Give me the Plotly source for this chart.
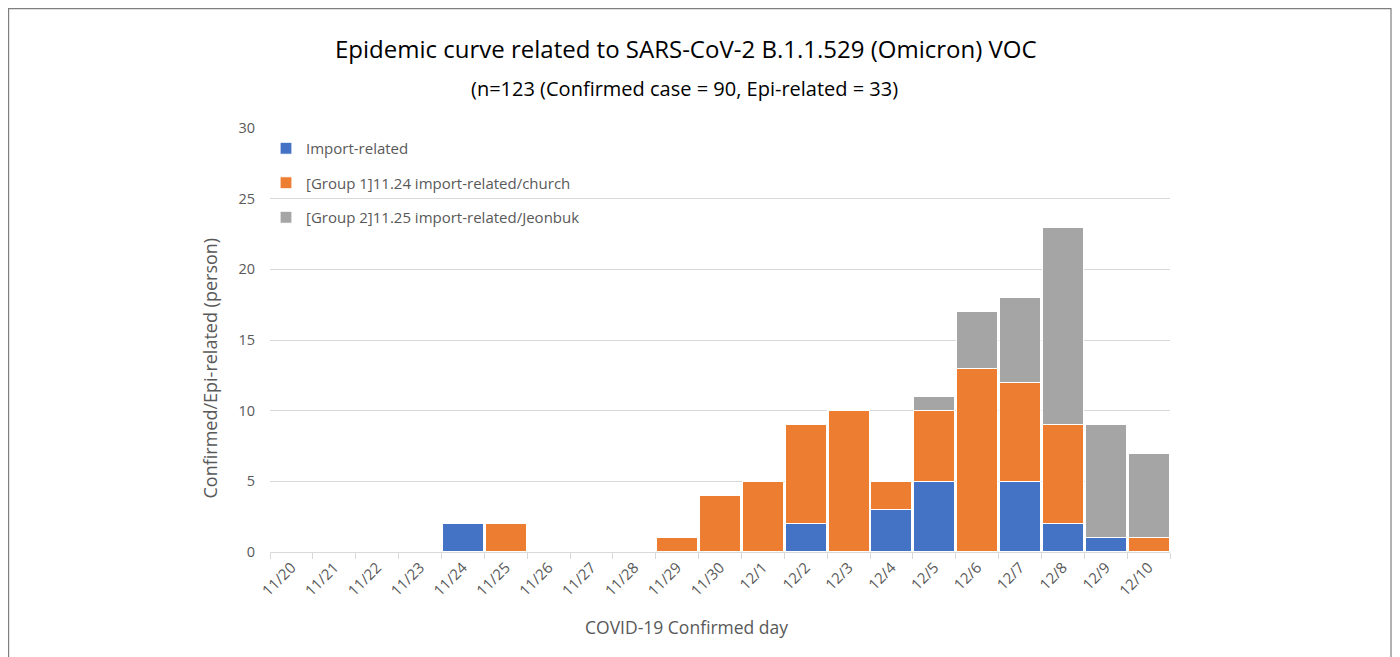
import plotly.graph_objects as go

dates = ["11/20", "11/21", "11/22", "11/23", "11/24", "11/25", "11/26", "11/27", "11/28",
         "11/29", "11/30", "12/1", "12/2", "12/3", "12/4", "12/5", "12/6", "12/7", "12/8",
         "12/9", "12/10"]
import_related = [0, 0, 0, 0, 2, 0, 0, 0, 0, 0, 0, 0, 2, 0, 3, 5, 0, 5, 2, 1, 0]
group1_church = [0, 0, 0, 0, 0, 2, 0, 0, 0, 1, 4, 5, 7, 10, 2, 5, 13, 7, 7, 0, 1]
group2_jeonbuk = [0, 0, 0, 0, 0, 0, 0, 0, 0, 0, 0, 0, 0, 0, 0, 1, 4, 6, 14, 8, 6]

series = [
    ("Import-related", import_related, "#4472C4"),
    ("[Group 1]11.24 import-related/church", group1_church, "#ED7D31"),
    ("[Group 2]11.25 import-related/Jeonbuk", group2_jeonbuk, "#A5A5A5"),
]

FONT = "Open Sans, Noto Sans, sans-serif"

# page is offset by 8px body margin
OFF = 8
L, T, PW, PH = 270 - OFF, 128 - OFF, 900, 424
W, H = 1392, 649

def px_x(page_x):
    return (page_x - OFF - L) / PW

def px_y(page_y):
    return (T + PH - (page_y - OFF)) / PH

fig = go.Figure()
for i, (name, vals, color) in enumerate(series):
    fig.add_trace(go.Bar(
        x=dates, y=vals, name=name,
        marker=dict(color=color, line=dict(color="white", width=1.2)),
        legendgroup=f"g{i}",
    ))

fig.update_layout(
    barmode="stack",
    bargap=0.04,
    width=W, height=H,
    margin=dict(l=L, r=W - L - PW, t=T, b=H - T - PH),
    paper_bgcolor="white", plot_bgcolor="white",
    font=dict(family=FONT, color="#595959", size=14),
    legend=dict(
        x=px_x(266), y=px_y(132), xanchor="left", yanchor="top",
        bgcolor="rgba(0,0,0,0)", font=dict(size=15, color="#595959"),
        tracegroupgap=12, itemwidth=30,
    ),
    showlegend=True,
    xaxis=dict(
        type="category", tickangle=-45, showline=True, linecolor="#D9D9D9", linewidth=1,
        ticks="outside", tickson="boundaries", tickcolor="#D9D9D9", ticklen=6,
        tickfont=dict(size=15, color="#595959"),
        showgrid=False,
    ),
    yaxis=dict(
        range=[0, 30], dtick=5, showgrid=True, gridcolor="#D9D9D9", gridwidth=1,
        zeroline=False, tickfont=dict(size=14.5, color="#595959"),
        ticklabelstandoff=14,
    ),
)

fig.add_annotation(
    text="Epidemic curve related to SARS-CoV-2 B.1.1.529 (Omicron) VOC",
    xref="paper", yref="paper", x=px_x(685.5), y=px_y(48),
    xanchor="center", yanchor="middle", showarrow=False,
    font=dict(size=24, color="#000000", family=FONT),
)
fig.add_annotation(
    text="(n=123 (Confirmed case = 90, Epi-related = 33)",
    xref="paper", yref="paper", x=px_x(684.5), y=px_y(88),
    xanchor="center", yanchor="middle", showarrow=False,
    font=dict(size=20, color="#000000", family=FONT),
)
fig.add_annotation(
    text="COVID-19 Confirmed day",
    xref="paper", yref="paper", x=px_x(686.5), y=px_y(627),
    xanchor="center", yanchor="middle", showarrow=False,
    font=dict(size=17.5, color="#595959", family=FONT),
)
fig.add_annotation(
    text="Confirmed/Epi-related (person)",
    xref="paper", yref="paper", x=px_x(209), y=px_y(368.5),
    xanchor="center", yanchor="middle", showarrow=False, textangle=-90,
    font=dict(size=18, color="#595959", family=FONT),
)

fig.add_shape(
    type="rect", xref="paper", yref="paper",
    x0=px_x(8.6), x1=px_x(1391),
    y0=px_y(720), y1=px_y(8.6),
    line=dict(color="#7F7F7F", width=1.2), fillcolor="rgba(0,0,0,0)", layer="below",
)

fig.write_html("out.html")
